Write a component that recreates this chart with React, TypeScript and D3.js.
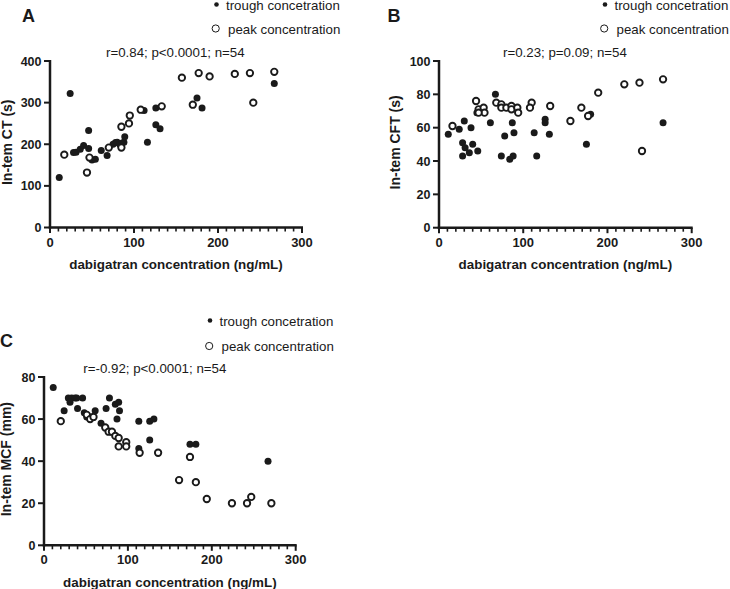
import React from "react";
import * as d3 from "d3";

// ---------- data ----------
const xTicks = [0, 100, 200, 300];
const legendLabels = ["trough concetration", "peak concentration"];
const xTitle = "dabigatran concentration (ng/mL)";

// Panel A: In-tem CT (s)
const aTroughX = [11, 24, 28, 31, 36, 40, 46, 46, 50, 54, 61, 68, 75, 78, 80, 83, 86, 88, 89, 112, 116, 126, 126, 131, 175, 181, 267];
const aTroughY = [120, 322, 180, 181, 188, 197, 233, 190, 162, 164, 185, 173, 200, 204, 205, 200, 203, 205, 218, 281, 205, 287, 247, 237, 311, 287, 346];
const aPeakX = [17, 44, 47, 70, 85, 85, 94, 95, 108, 133, 157, 170, 177, 190, 220, 238, 242, 267];
const aPeakY = [175, 132, 168, 192, 192, 242, 250, 269, 283, 291, 360, 295, 371, 363, 369, 371, 300, 374];
const aYTicks = [0, 100, 200, 300, 400];

// Panel B: In-tem CFT (s)
const bTroughX = [11, 24, 30, 38, 28, 31, 36, 40, 46, 28, 61, 67, 78, 74, 84, 88, 87, 89, 113, 116, 126, 126, 131, 175, 180, 266, 45, 51];
const bTroughY = [56, 59, 64, 60, 51, 48, 45, 50, 46, 43, 63, 80, 55, 43, 41, 43, 63, 57, 57, 43, 65, 63, 56, 50, 68, 63, 69, 70];
const bPeakX = [16, 44, 47, 53, 54, 47, 68, 74, 74, 80, 86, 86, 93, 94, 110, 108, 132, 156, 169, 177, 189, 220, 238, 266, 241];
const bPeakY = [61, 76, 71, 72, 69, 69, 75, 74, 72, 72, 73, 71, 72, 69, 75, 72, 73, 64, 72, 67, 81, 86, 87, 89, 46];
const bYTicks = [0, 20, 40, 60, 80, 100];

// Panel C: In-tem MCF (mm)
const cTroughX = [11, 24, 29, 33, 37, 39, 46, 31, 40, 48, 51, 55, 61, 68, 78, 74, 85, 89, 90, 87, 113, 126, 131, 126, 113, 174, 181, 267];
const cTroughY = [75, 64, 70, 70, 70, 70, 70, 68, 65, 63, 61, 61, 64, 58, 70, 65, 67, 68, 64, 60, 59, 59, 60, 50, 46, 48, 48, 40];
const cPeakX = [20, 51, 55, 59, 73, 77, 81, 85, 89, 89, 98, 98, 114, 136, 174, 161, 181, 194, 224, 242, 247, 271];
const cPeakY = [59, 62, 60, 61, 56, 54, 54, 52, 51, 47, 49, 47, 44, 44, 42, 31, 30, 22, 20, 20, 23, 20];
const cYTicks = [0, 20, 40, 60, 80];

// ---------- layout ----------
const FONT = "'Liberation Sans', Arial, Helvetica, sans-serif";

type PanelCfg = {
  letter: string;
  letterX: number;
  letterY: number;
  yTitle: string;
  yTitleX: number;
  x0: number;
  x1: number;
  y0: number;
  y1: number;
  yMax: number;
  yTicks: number[];
  troughX: number[];
  troughY: number[];
  peakX: number[];
  peakY: number[];
  stat: string;
  statX: number;
  statY: number;
  legX: number;
  legY1: number;
  legY2: number;
};

const panels: PanelCfg[] = [
  {
    letter: "A", letterX: 22, letterY: 21.7,
    yTitle: "In-tem CT (s)", yTitleX: 12,
    x0: 50, x1: 302, y0: 227.5, y1: 61, yMax: 400, yTicks: aYTicks,
    troughX: aTroughX, troughY: aTroughY, peakX: aPeakX, peakY: aPeakY,
    stat: "r=0.84; p<0.0001; n=54", statX: 106, statY: 56.5,
    legX: 216.5, legY1: 4.5, legY2: 28.5,
  },
  {
    letter: "B", letterX: 387.5, letterY: 21.7,
    yTitle: "In-tem CFT (s)", yTitleX: 400,
    x0: 439, x1: 691.7, y0: 227.7, y1: 61, yMax: 100, yTicks: bYTicks,
    troughX: bTroughX, troughY: bTroughY, peakX: bPeakX, peakY: bPeakY,
    stat: "r=0.23; p=0.09; n=54", statX: 503, statY: 56.5,
    legX: 605, legY1: 4.5, legY2: 28.5,
  },
  {
    letter: "C", letterX: 0, letterY: 346.5,
    yTitle: "In-tem MCF (mm)", yTitleX: 10.5,
    x0: 44, x1: 295.7, y0: 545.3, y1: 377, yMax: 80, yTicks: cYTicks,
    troughX: cTroughX, troughY: cTroughY, peakX: cPeakX, peakY: cPeakY,
    stat: "r=-0.92; p<0.0001; n=54", statX: 83.3, statY: 372.5,
    legX: 210, legY1: 320.5, legY2: 346,
  },
];

function Panel({ p }: { p: PanelCfg }) {
  const x = d3.scaleLinear().domain([0, 300]).range([p.x0, p.x1]);
  const y = d3.scaleLinear().domain([0, p.yMax]).range([p.y0, p.y1]);
  const minor = d3.range(0, 301, 10).filter((v) => v % 100 !== 0);
  const trough = p.troughX.map((v, i) => [v, p.troughY[i]]);
  const peak = p.peakX.map((v, i) => [v, p.peakY[i]]);
  const yMid = (p.y0 + p.y1) / 2 - 2;
  const xMid = (p.x0 + p.x1) / 2;
  return (
    <g fontFamily={FONT}>
      <text x={p.letterX} y={p.letterY} fontSize={18} fontWeight="bold" fill="#1a1a1a">{p.letter}</text>
      {/* legend */}
      <circle cx={p.legX} cy={p.legY1} r={2.3} fill="#1a1a1a" />
      <text x={p.legX + 9.5} y={p.legY1 + 5.3} fontSize={13.3} fill="#1a1a1a">{legendLabels[0]}</text>
      <circle cx={p.legX - 0.8} cy={p.legY2} r={3.6} fill="white" stroke="#1a1a1a" strokeWidth={1} />
      <text x={p.legX + 11.5} y={p.legY2 + 5.3} fontSize={13.3} fill="#1a1a1a">{legendLabels[1]}</text>
      {/* stat */}
      <text x={p.statX} y={p.statY} fontSize={13.3} fill="#1a1a1a">{p.stat}</text>
      {/* axes */}
      <line x1={p.x0} x2={p.x0} y1={p.y0 + 1.2} y2={p.y1 - 1} stroke="#1a1a1a" strokeWidth={2.5} />
      <line x1={p.x0 - 1.2} x2={p.x1 + 1} y1={p.y0} y2={p.y0} stroke="#1a1a1a" strokeWidth={2.5} />
      {p.yTicks.map((t) => (
        <g key={"y" + t}>
          <line x1={p.x0 - 6} x2={p.x0} y1={y(t)} y2={y(t)} stroke="#1a1a1a" strokeWidth={2} />
          <text x={p.x0 - 8.5} y={y(t)} dy="0.36em" textAnchor="end" fontSize={12.5} fontWeight="bold" fill="#1a1a1a">{t}</text>
        </g>
      ))}
      {xTicks.map((t) => (
        <g key={"x" + t}>
          <line x1={x(t)} x2={x(t)} y1={p.y0} y2={p.y0 + 5.5} stroke="#1a1a1a" strokeWidth={2} />
          <text x={x(t)} y={p.y0 + 19} textAnchor="middle" fontSize={13} fontWeight="bold" fill="#1a1a1a">{t}</text>
        </g>
      ))}
      {minor.map((t) => (
        <line key={"m" + t} x1={x(t)} x2={x(t)} y1={p.y0} y2={p.y0 + 4} stroke="#1a1a1a" strokeWidth={1.6} />
      ))}
      {/* titles */}
      <text x={xMid} y={p.y0 + 41.5} textAnchor="middle" fontSize={13.4} fontWeight="bold" fill="#1a1a1a">{xTitle}</text>
      <text transform={`translate(${p.yTitleX},${yMid}) rotate(-90)`} textAnchor="middle" fontSize={14} fontWeight="bold" fill="#1a1a1a">{p.yTitle}</text>
      {/* points */}
      {trough.map((d, i) => (
        <circle key={"t" + i} cx={x(d[0])} cy={y(d[1])} r={3.5} fill="#1a1a1a" />
      ))}
      {peak.map((d, i) => (
        <circle key={"p" + i} cx={x(d[0])} cy={y(d[1])} r={3.2} fill="white" stroke="#1a1a1a" strokeWidth={1.9} />
      ))}
    </g>
  );
}

export default function App() {
  return (
    <svg width={730} height={589} style={{ position: "absolute", left: 0, top: 0, background: "white" }}>
      <rect width={730} height={589} fill="white" />
      {panels.map((p) => (
        <Panel key={p.letter} p={p} />
      ))}
    </svg>
  );
}
